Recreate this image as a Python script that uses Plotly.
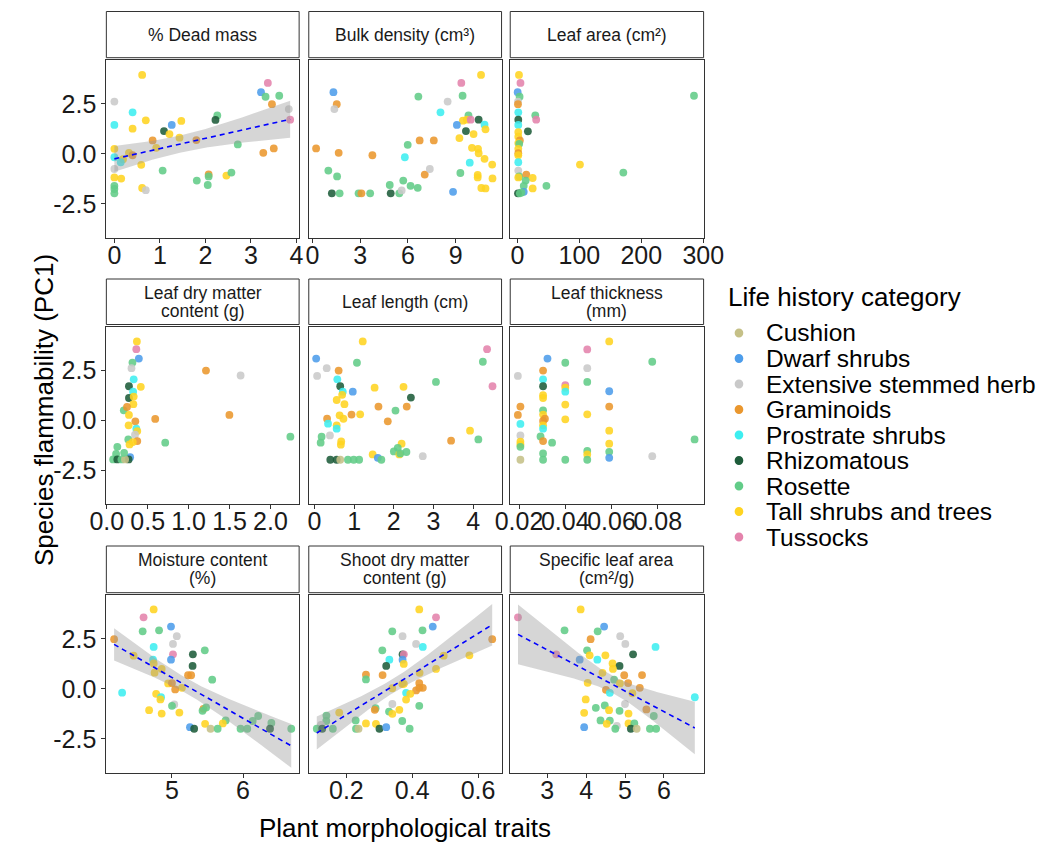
import numpy as np
import plotly.graph_objects as go

W, H = 1053, 843

# ---------------- categories ----------------
CATEGORIES = ["Cushion", "Dwarf shrubs", "Extensive stemmed herb", "Graminoids",
              "Prostrate shrubs", "Rhizomatous", "Rosette", "Tall shrubs and trees", "Tussocks"]
CAT_CODES = ["CU", "DW", "EX", "GR", "PR", "RH", "RO", "TA", "TU"]
CAT_COLORS = ["#C5C087", "#4D9DEB", "#C9C9C9", "#EA972E", "#3DEEF0",
              "#1E5C3A", "#62CC88", "#FFD421", "#E483AC"]

# ---------------- data ----------------
dead_x = [0.61, 3.37, 3.22, 3.32, 3.62, 3.46, 3.83, 3.86, 0.00, 0.40, 0.00, 0.40, 0.69, 1.26, 1.47, 1.09,
          1.21, 1.43, 0.84, 0.92, 2.26, 2.22, 1.80, 2.71, 3.27, 3.50, 0.00, 0.00, 0.00, 0.32, 0.40, 0.19,
          0.14, 0.59, 0.00, 0.15, 0.00, 0.00, 0.00, 0.61, 0.69, 1.06, 1.81, 2.07, 2.07, 2.05, 2.46, 2.57]
dead_y = [3.95, 3.55, 3.09, 2.86, 2.91, 2.49, 2.24, 1.71, 2.62, 2.08, 1.45, 1.26, 1.68, 1.45, 1.65, 1.14,
          0.99, 0.81, 0.67, 0.30, 1.92, 1.70, 0.69, 0.47, 0.05, 0.27, 0.25, -0.17, -0.76, 0.05, -0.07, -0.27,
          -0.42, -0.55, -1.18, -1.24, -1.60, -1.76, -1.98, -1.71, -1.82, -0.84, -1.34, -1.03, -1.13, -1.56, -1.09, -0.94]
dead_c = ["TA", "TU", "DW", "RO", "RO", "GR", "EX", "TU", "EX", "PR", "PR", "TA", "TA", "DW", "TA", "RH",
          "TA", "TA", "GR", "TA", "RO", "RH", "GR", "RO", "GR", "GR", "TA", "PR", "EX", "TA", "GR", "TA",
          "PR", "TA", "TA", "TA", "RO", "RO", "RO", "TA", "EX", "RO", "RO", "GR", "RO", "RO", "TA", "RO"]

bulk_x = [1.32, 1.53, 1.38, 0.23, 1.65, 3.77, 1.00, 1.55, 1.22, 1.71, 2.90, 3.08, 3.63, 4.86, 4.92, 5.46,
          5.61, 5.71, 6.17, 6.62, 5.81, 5.99, 6.74, 7.63, 7.06, 7.38, 6.66, 8.50, 8.05, 9.36, 9.44, 10.60,
          9.81, 9.46, 9.71, 9.95, 10.45, 9.08, 9.65, 10.82, 10.88, 10.13, 9.24, 10.03, 10.41, 10.45, 10.82, 11.30,
          9.89, 9.30, 10.39, 10.39, 11.32, 10.62, 10.88, 8.84]
bulk_y = [3.09, 2.49, 2.24, 0.27, 0.05, -0.07, -0.84, -1.13, -1.98, -1.98, -1.98, -1.98, -1.98, -1.56, -1.98, -1.98,
          -1.83, -1.34, -1.60, -1.70, -0.17, 0.45, 0.67, 0.67, -1.04, -0.76, 2.87, 2.62, 2.08, 3.55, 2.91, 3.95,
          1.93, 1.66, 1.71, 1.71, 1.71, 1.45, 1.14, 1.46, 1.23, 0.99, 0.79, 0.30, 0.25, 0.03, -0.25, -0.54,
          -0.44, -0.96, -1.06, -1.18, -1.23, -1.71, -1.73, -1.90]
bulk_c = ["DW", "GR", "EX", "GR", "GR", "GR", "RO", "RO", "RH", "RO", "RO", "GR", "RO", "RO", "RH", "RO",
          "EX", "RO", "RO", "RO", "PR", "RO", "GR", "GR", "GR", "EX", "RO", "EX", "PR", "TU", "RO", "TA",
          "RO", "TA", "TA", "TU", "RH", "DW", "RH", "PR", "TA", "TA", "TA", "TA", "TA", "TA", "TA", "TA",
          "PR", "RO", "TA", "TA", "TA", "TA", "TA", "DW"]

area_x = [2.6, 5.0, 0.5, 3.6, 1.0, 1.0, 1.5, 1.5, 1.5, 1.5, 1.5, 4.0, 1.5, 3.0, 1.5, 1.5,
          1.5, 1.5, 1.5, 3.0, 1.5, 14.4, 24.7, 13.4, 10.3, 24.7, 10.3, 6.7, 1.0, 4.0, 28.9, 30.4,
          17.0, 101.0, 171.0, 46.9, 285.0]
area_y = [3.95, 3.55, 3.09, 2.86, 2.62, 2.49, 2.08, 1.71, 1.45, 1.09, 0.86, 0.67, 0.54, 0.50, 0.25, 0.03,
          -0.07, -0.42, -0.84, -1.13, -1.18, -1.04, -1.21, -1.34, -1.60, -1.73, -1.90, -1.93, -1.98, -1.98, 1.93, 1.71,
          1.13, -0.54, -0.94, -1.60, 2.91]
area_c = ["TA", "TU", "DW", "RO", "EX", "GR", "PR", "RH", "PR", "TA", "TA", "GR", "TA", "RO", "TA", "GR",
          "TA", "PR", "EX", "RO", "TA", "GR", "TA", "RO", "RO", "TA", "DW", "RO", "RH", "RO", "RO", "TU",
          "RH", "TA", "RO", "RO", "RO"]

ldmc_x = [0.368, 0.361, 0.392, 0.314, 0.302, 1.212, 1.635, 0.329, 0.271, 0.416, 0.322, 0.271, 0.329, 0.325, 0.208, 0.247,
          0.271, 0.349, 0.267, 0.361, 0.373, 0.592, 1.498, 0.345, 0.263, 0.373, 0.318, 0.278, 0.714, 2.243, 0.129, 0.114,
          0.078, 0.286, 0.129, 0.267, 0.180, 0.224, 0.212]
ldmc_y = [3.96, 3.57, 3.10, 2.90, 2.62, 2.50, 2.25, 2.06, 1.71, 1.68, 1.44, 1.12, 1.19, 0.81, 0.50, 0.67,
          0.27, -0.05, -0.25, -0.42, -0.54, 0.07, 0.27, -0.72, -0.96, -1.04, -1.09, -1.21, -1.12, -0.82, -1.33, -1.69,
          -1.96, -1.85, -1.96, -1.96, -1.96, -1.96, -1.63]
ldmc_c = ["TA", "TU", "DW", "RO", "EX", "GR", "EX", "PR", "RH", "TA", "PR", "RH", "TA", "TA", "RO", "GR",
          "TA", "GR", "TA", "PR", "TA", "GR", "GR", "EX", "RO", "GR", "TA", "TA", "RO", "RO", "RO", "RO",
          "RO", "DW", "RH", "RH", "RO", "CU", "RO"]

len_x = [1.218, 0.045, 1.072, 0.311, 0.069, 0.611, 0.578, 0.651, 0.716, 0.967, 0.700, 0.562, 0.757, 1.517, 2.245, 3.062,
         2.431, 1.614, 2.326, 2.043, 0.935, 1.153, 0.635, 0.732, 1.849, 0.320, 0.344, 0.562, 0.562, 0.392, 0.182, 0.158,
         0.676, 0.667, 4.349, 4.243, 4.486, 3.920, 4.130, 3.443, 2.197, 2.100, 2.002, 2.140, 2.318, 2.164, 1.468, 1.598,
         1.687, 2.730, 0.401, 0.562, 0.651, 0.845, 0.991, 1.128]
len_y = [3.96, 3.10, 2.89, 2.62, 2.23, 2.50, 2.06, 1.71, 1.44, 1.44, 1.28, 1.02, 0.81, 1.64, 1.68, 1.93,
         1.14, 0.69, 0.69, 0.49, 0.29, 0.30, 0.25, 0.08, -0.05, 0.08, -0.17, -0.25, -0.42, -0.76, -0.82, -1.12,
         -1.06, -1.22, 3.57, 2.94, 1.71, -0.52, -0.96, -1.02, -1.17, -1.38, -1.56, -1.71, -1.59, -1.66, -1.71, -1.88,
         -1.98, -1.80, -1.98, -1.98, -1.98, -1.98, -1.98, -1.98]
len_c = ["TA", "DW", "RO", "EX", "EX", "GR", "PR", "RH", "PR", "DW", "TA", "TA", "TA", "TA", "TA", "RO",
         "RH", "GR", "GR", "RO", "GR", "TA", "TA", "TA", "GR", "GR", "PR", "TA", "PR", "EX", "RO", "RO",
         "TA", "TA", "TU", "RO", "TU", "TA", "RO", "GR", "TA", "RO", "RO", "TA", "RO", "RO", "TA", "DW",
         "RO", "EX", "RH", "RH", "CU", "RO", "RO", "RO"]

thick_x = [0.0195, 0.0206, 0.0195, 0.0206, 0.0206, 0.0206, 0.0206, 0.0206, 0.0206,
           0.0304, 0.0304, 0.0304, 0.0304, 0.0304, 0.0304, 0.0304, 0.0312, 0.0304, 0.0304, 0.0304, 0.0293,
           0.0304, 0.0343, 0.0304, 0.0304, 0.0323,
           0.0400, 0.0400, 0.0400, 0.0400, 0.0400, 0.0400, 0.0400,
           0.0495, 0.0495, 0.0495, 0.0495, 0.0495, 0.0495, 0.0495,
           0.0590, 0.0590, 0.0590, 0.0590, 0.0590, 0.0590, 0.0590,
           0.0776, 0.0776, 0.0959]
thick_y = [2.23, 0.69, 0.27, -0.18, -0.76, -1.07, -1.21, -1.33, -1.98,
           2.50, 2.06, 1.71, 1.26, 1.12, 0.50, 0.29, 0.08, -0.03, -0.25, -0.42, -0.81,
           -1.04, -1.12, -1.66, -1.98, 3.10,
           2.89, 1.76, 1.64, 1.44, 0.79, 0.05, -1.98,
           3.56, 2.62, 1.93, 0.30, -1.54, -1.71, -1.98,
           3.96, 1.46, 0.69, -0.52, -1.17, -1.58, -1.88,
           2.94, -1.80, -0.96]
thick_c = ["EX", "GR", "GR", "PR", "EX", "TA", "TA", "RO", "CU",
           "GR", "PR", "RH", "TA", "TA", "RO", "TA", "GR", "GR", "TA", "PR", "RO",
           "GR", "RO", "RO", "RO", "DW",
           "RO", "TU", "TA", "PR", "TA", "TA", "RO",
           "TU", "EX", "RO", "TA", "RO", "TA", "RO",
           "TA", "DW", "GR", "TA", "TA", "RO", "DW",
           "RO", "EX", "RO"]

moist_x = [4.742, 4.600, 4.986, 4.587, 4.818, 5.068, 5.014, 4.185, 4.742, 5.014, 4.986, 5.294, 5.462, 5.290, 4.460, 4.733,
           4.742, 4.755, 4.855, 5.226, 5.270, 5.566, 4.946, 5.000, 5.140, 5.045, 4.298, 4.777, 4.846, 4.837, 5.032, 5.000,
           5.443, 5.430, 5.480, 4.678, 4.855, 5.104, 5.756, 5.466, 5.715, 5.253, 5.312, 5.543, 5.643, 5.965, 6.060, 6.136,
           6.213, 6.399, 6.380, 6.679]
moist_y = [3.98, 3.58, 3.12, 2.88, 2.93, 2.64, 2.25, 2.49, 2.10, 1.73, 1.46, 1.73, 1.93, 1.15, 1.66, 1.46,
           1.27, 0.81, 1.00, 0.68, 0.68, 0.46, 0.27, 0.29, 0.05, -0.03, -0.19, -0.25, -0.42, -0.53, -0.78, -0.85,
           -1.00, -1.10, -0.93, -1.07, -1.24, -1.19, -1.58, -1.75, -1.73, -1.92, -2.00, -2.00, -2.00, -2.00, -2.00, -1.61,
           -1.36, -1.71, -2.00, -2.00]
moist_c = ["TA", "TU", "DW", "RO", "RO", "EX", "EX", "GR", "PR", "TU", "DW", "RH", "RO", "RH", "TA", "PR",
           "TA", "TA", "TA", "GR", "GR", "RO", "TA", "GR", "TA", "GR", "PR", "TA", "PR", "TA", "EX", "RO",
           "GR", "RO", "RO", "TA", "TA", "TA", "RO", "TA", "TA", "DW", "RH", "CU", "RO", "RO", "RO", "RO",
           "RO", "RO", "RH", "RO"]

shoot_x = [0.4214, 0.4723, 0.4624, 0.3394, 0.4313, 0.3707, 0.4117, 0.4322, 0.3092, 0.3707, 0.3746, 0.3707, 0.3306, 0.3743,
           0.3210, 0.2595, 0.2595, 0.3100, 0.4224, 0.4723, 0.4957, 0.5737, 0.6430, 0.3394, 0.3700, 0.3746, 0.4214, 0.4117,
           0.4322, 0.4214, 0.3814, 0.3814, 0.3941, 0.4214, 0.3397, 0.2887, 0.2863, 0.3296, 0.3609, 0.3397, 0.1783, 0.1394,
           0.1390, 0.1227, 0.1101, 0.1267, 0.1589, 0.2282, 0.2292, 0.2370, 0.2595, 0.2898, 0.3005, 0.3210, 0.3697, 0.3922]
shoot_y = [3.98, 3.58, 3.12, 2.88, 2.93, 2.64, 2.25, 2.10, 1.93, 1.73, 1.73, 1.46, 1.46, 1.25,
           1.15, 0.71, 0.47, 0.69, 0.80, 1.00, 1.66, 1.68, 2.49, 0.03, 0.24, 0.25, 0.29, -0.08,
           0.05, 0.05, -0.20, -0.54, -0.25, -0.85, -0.76, -0.97, -1.05, -1.14, -1.05, -1.25, -1.19, -1.34,
           -1.61, -1.80, -2.00, -2.00, -2.00, -1.58, -2.00, -2.00, -1.73, -1.75, -2.00, -1.92, -1.61, -2.00]
shoot_c = ["TA", "TU", "DW", "RO", "RO", "EX", "EX", "PR", "RO", "RH", "TU", "DW", "PR", "TA",
           "RH", "GR", "RO", "GR", "TA", "TA", "TA", "TA", "GR", "TA", "TA", "TA", "GR", "GR",
           "GR", "GR", "PR", "TA", "TA", "RO", "EX", "RO", "GR", "RO", "TA", "TA", "TA", "RO",
           "RO", "EX", "RO", "RH", "RO", "RO", "RO", "CU", "TA", "TA", "RH", "DW", "RO", "RO"]

sla_x = [2.249, 3.860, 3.446, 4.463, 4.297, 4.116, 4.876, 5.008, 5.785, 5.207, 3.232, 4.025, 4.091, 4.496, 3.835, 4.289,
         4.680, 4.860, 4.690, 4.420, 4.980, 5.438, 4.720, 4.040, 5.080, 4.870, 5.380, 4.510, 5.190, 4.610, 6.794, 3.990,
         5.000, 4.250, 4.480, 3.950, 4.860, 4.590, 5.090, 5.550, 5.740, 4.370, 4.610, 4.530, 3.950, 4.790, 4.750, 5.090,
         5.240, 5.150, 5.300, 5.640, 5.800]
sla_y = [3.58, 3.98, 2.93, 3.12, 2.88, 2.49, 2.64, 2.25, 2.10, 1.73, 1.73, 1.93, 1.68, 1.68, 1.46, 1.46,
         1.27, 1.15, 1.00, 0.80, 0.68, 0.69, 0.46, 0.30, 0.29, 0.27, 0.05, -0.05, -0.22, -0.20, -0.42, -0.53,
         -0.76, -0.95, -0.83, -1.20, -1.10, -1.07, -1.24, -1.03, -1.36, -1.58, -1.59, -1.75, -1.92, -1.85, -2.00, -1.73,
         -1.73, -2.00, -2.00, -2.00, -2.00]
sla_c = ["TU", "TA", "RO", "DW", "RO", "GR", "EX", "EX", "PR", "RH", "TU", "RO", "TA", "TA", "DW", "PR",
         "TA", "RH", "TA", "TA", "GR", "GR", "RO", "TA", "GR", "TA", "GR", "GR", "TA", "PR", "PR", "TA",
         "EX", "RO", "RO", "TA", "RO", "TA", "TA", "GR", "RO", "RO", "RO", "TA", "DW", "EX", "RO", "TA",
         "RO", "RH", "CU", "RO", "RO"]

STRIP_LABELS = ["% Dead mass", "Bulk density (cm³)", "Leaf area (cm²)",
                "Leaf dry matter\ncontent (g)", "Leaf length (cm)", "Leaf thickness\n(mm)",
                "Moisture content\n(%)", "Shoot dry matter\ncontent (g)", "Specific leaf area\n(cm²/g)"]
X_TICKS = [[0, 1, 2, 3, 4], [0, 3, 6, 9], [0, 100, 200, 300],
           [0.0, 0.5, 1.0, 1.5, 2.0], [0, 1, 2, 3, 4], [0.02, 0.04, 0.06, 0.08],
           [5, 6], [0.2, 0.4, 0.6], [3, 4, 5, 6]]
X_TICKTEXT = [["0", "1", "2", "3", "4"], ["0", "3", "6", "9"], ["0", "100", "200", "300"],
              ["0.0", "0.5", "1.0", "1.5", "2.0"], ["0", "1", "2", "3", "4"], ["0.02", "0.04", "0.06", "0.08"],
              ["5", "6"], ["0.2", "0.4", "0.6"], ["3", "4", "5", "6"]]
Y_TICKS = [-2.5, 0.0, 2.5]
Y_TICKTEXT = ["-2.5", "0.0", "2.5"]
WITH_FIT = [True, False, False, False, False, False, True, True, True]

PANEL_DATA = [(dead_x, dead_y, dead_c), (bulk_x, bulk_y, bulk_c), (area_x, area_y, area_c),
              (ldmc_x, ldmc_y, ldmc_c), (len_x, len_y, len_c), (thick_x, thick_y, thick_c),
              (moist_x, moist_y, moist_c), (shoot_x, shoot_y, shoot_c), (sla_x, sla_y, sla_c)]

# ---------------- layout geometry (pixels) ----------------
COL_PX = [(92.7, 292.7), (302.7, 502.7), (511.7, 712.3)]
ROW_PX = [(60.0, 237.7), (326.7, 504.0), (595.0, 772.7)]
STRIP_PX = [(11.5, 57.7), (279.0, 324.5), (546.0, 592.7)]
X_RANGES = [[-0.176, 4.057], [-0.23, 11.89], [-11.5, 300.5],
            [-0.005, 2.35], [-0.141, 4.714], [0.0162, 0.0998],
            [4.076, 6.79], [0.0858, 0.6714], [2.05, 7.02]]
Y_RANGE = [-4.2, 4.7]

FONT = "Liberation Sans, Arial, Helvetica, sans-serif"
TXT = "#1a1a1a"
color_of = dict(zip(CAT_CODES, CAT_COLORS))


def lm_band(x, y, n=80):
    x = np.asarray(x, float)
    y = np.asarray(y, float)
    m = len(x)
    X = np.column_stack([np.ones(m), x])
    beta = np.linalg.lstsq(X, y, rcond=None)[0]
    resid = y - X @ beta
    df = m - 2
    s2 = resid @ resid / df
    inv = np.linalg.inv(X.T @ X)
    xs = np.linspace(x.min(), x.max(), n)
    Xs = np.column_stack([np.ones(n), xs])
    fit = Xs @ beta
    se = np.sqrt(np.einsum("ij,jk,ik->i", Xs, inv, Xs) * s2)
    z = 1.959964
    t = z + (z ** 3 + z) / (4 * df) + (5 * z ** 5 + 16 * z ** 3 + 3 * z) / (96 * df ** 2)
    return xs, fit, fit - t * se, fit + t * se


fig = go.Figure()
layout = dict(width=W, height=H, margin=dict(l=0, r=0, t=0, b=0),
              paper_bgcolor="white", plot_bgcolor="white", showlegend=False,
              font=dict(family=FONT, color=TXT))
shapes = []
annotations = []

for i, (px, py, pc) in enumerate(PANEL_DATA):
    r, c = divmod(i, 3)
    k = "" if i == 0 else str(i + 1)
    xa, ya = "x" + k, "y" + k
    x0, x1 = COL_PX[c]
    y0, y1 = ROW_PX[r]
    layout["xaxis" + k] = dict(
        domain=[x0 / W, x1 / W], anchor=ya, range=X_RANGES[i], showgrid=False, zeroline=False,
        showline=True, mirror=True, linecolor="#333333", linewidth=1,
        ticks="outside", ticklen=4, tickcolor="#333333", tickwidth=1,
        tickmode="array", tickvals=X_TICKS[i], ticktext=X_TICKTEXT[i], tickangle=0,
        ticklabelstandoff=-9,
        tickfont=dict(size=25, color=TXT, family=FONT), fixedrange=True)
    layout["yaxis" + k] = dict(
        domain=[1 - y1 / H, 1 - y0 / H], anchor=xa, range=Y_RANGE, showgrid=False, zeroline=False,
        showline=True, mirror=True, linecolor="#333333", linewidth=1,
        ticks="outside" if c == 0 else "", ticklen=4, tickcolor="#333333", tickwidth=1,
        tickmode="array", tickvals=Y_TICKS, ticktext=Y_TICKTEXT, showticklabels=(c == 0),
        tickfont=dict(size=25, color=TXT, family=FONT), fixedrange=True)

    fig.add_trace(go.Scatter(
        x=px, y=py, mode="markers", xaxis=xa, yaxis=ya,
        marker=dict(size=7.8, color=[color_of[v] for v in pc], opacity=0.88, line=dict(width=0)),
        hoverinfo="skip"))

    if WITH_FIT[i]:
        xs, fit, lo, hi = lm_band(px, py)
        fig.add_trace(go.Scatter(x=xs, y=hi, mode="lines", line=dict(width=0), xaxis=xa, yaxis=ya,
                                 hoverinfo="skip"))
        fig.add_trace(go.Scatter(x=xs, y=lo, mode="lines", line=dict(width=0), fill="tonexty",
                                 fillcolor="rgba(153,153,153,0.4)", xaxis=xa, yaxis=ya, hoverinfo="skip"))
        fig.add_trace(go.Scatter(x=xs, y=fit, mode="lines", xaxis=xa, yaxis=ya,
                                 line=dict(color="blue", width=1.6, dash="5px,4px"), hoverinfo="skip"))

    # strip
    s0, s1 = STRIP_PX[r]
    shapes.append(dict(type="rect", xref="paper", yref="paper",
                       x0=x0 / W, x1=x1 / W, y0=1 - s1 / H, y1=1 - s0 / H,
                       fillcolor="white", line=dict(color="#333333", width=1), layer="above"))
    lines = STRIP_LABELS[i].split("\n")
    sc = (s0 + s1) / 2
    offs = [0] if len(lines) == 1 else [-9, 9]
    for ln, off in zip(lines, offs):
        annotations.append(dict(text=ln, xref="paper", yref="paper", x=(x0 + x1) / 2 / W,
                                y=1 - (sc + off) / H, xanchor="center", yanchor="middle",
                                showarrow=False, font=dict(size=17.5, color=TXT, family=FONT)))

# axis titles
annotations.append(dict(text="Species flammability (PC1)", xref="paper", yref="paper",
                        x=28 / W, y=1 - 410 / H, textangle=-90, xanchor="center", yanchor="middle",
                        showarrow=False, font=dict(size=26, color="black", family=FONT)))
annotations.append(dict(text="Plant morphological traits", xref="paper", yref="paper",
                        x=402.5 / W, y=1 - 828 / H, xanchor="center", yanchor="middle",
                        showarrow=False, font=dict(size=26, color="black", family=FONT)))

# legend (manual, ggplot-like spacing)
annotations.append(dict(text="Life history category", xref="paper", yref="paper",
                        x=736 / W, y=1 - 297 / H, xanchor="left", yanchor="middle",
                        showarrow=False, font=dict(size=26, color="black", family=FONT)))
for j, (name, col) in enumerate(zip(CATEGORIES, CAT_COLORS)):
    cy = 333 + 25.5 * j
    shapes.append(dict(type="circle", xref="paper", yref="paper",
                       x0=(749 - 4.5) / W, x1=(749 + 4.5) / W, y0=1 - (cy + 4.5) / H, y1=1 - (cy - 4.5) / H,
                       fillcolor=col, line=dict(width=0)))
    annotations.append(dict(text=name, xref="paper", yref="paper", x=775 / W, y=1 - cy / H,
                            xanchor="left", yanchor="middle", showarrow=False,
                            font=dict(size=24.5, color="black", family=FONT)))

layout["shapes"] = shapes
layout["annotations"] = annotations
fig.update_layout(**layout)
fig.write_html("out.html")
